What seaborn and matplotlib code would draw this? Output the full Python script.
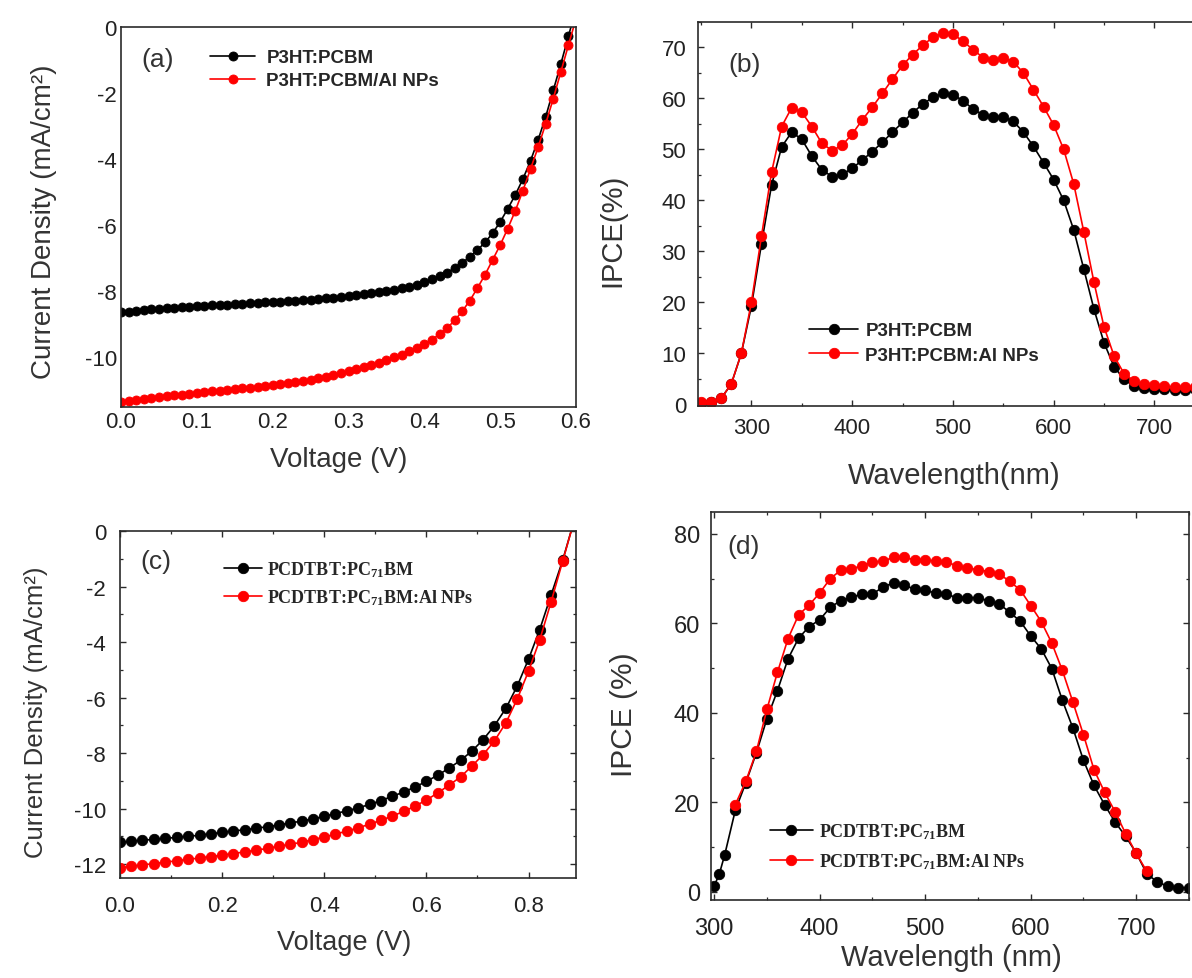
import matplotlib
matplotlib.use("Agg")
import matplotlib.pyplot as plt
import seaborn as sns
from matplotlib.ticker import MultipleLocator, FormatStrFormatter

# ---------------- data ----------------
# (a) J-V, P3HT:PCBM
volt_a = [0.00, 0.01, 0.02, 0.03, 0.04, 0.05, 0.06, 0.07, 0.08, 0.09,
          0.10, 0.11, 0.12, 0.13, 0.14, 0.15, 0.16, 0.17, 0.18, 0.19,
          0.20, 0.21, 0.22, 0.23, 0.24, 0.25, 0.26, 0.27, 0.28, 0.29,
          0.30, 0.31, 0.32, 0.33, 0.34, 0.35, 0.36, 0.37, 0.38, 0.39,
          0.40, 0.41, 0.42, 0.43, 0.44, 0.45, 0.46, 0.47, 0.48, 0.49,
          0.50, 0.51, 0.52, 0.53, 0.54, 0.55, 0.56, 0.57, 0.58, 0.59, 0.60]
jv_a_ref = [-8.64, -8.62, -8.60, -8.57, -8.54, -8.52, -8.50, -8.49, -8.47, -8.46,
            -8.45, -8.44, -8.42, -8.41, -8.40, -8.39, -8.37, -8.36, -8.35, -8.33,
            -8.32, -8.31, -8.29, -8.28, -8.26, -8.25, -8.23, -8.21, -8.19, -8.17,
            -8.14, -8.12, -8.09, -8.06, -8.03, -7.99, -7.95, -7.91, -7.86, -7.80,
            -7.72, -7.64, -7.54, -7.43, -7.30, -7.14, -6.95, -6.75, -6.52, -6.24,
            -5.90, -5.50, -5.08, -4.60, -4.05, -3.42, -2.72, -1.92, -1.12, -0.28, 0.55]
jv_a_al = [-11.36, -11.33, -11.30, -11.27, -11.24, -11.21, -11.18, -11.15, -11.13, -11.10,
           -11.08, -11.05, -11.03, -11.01, -10.99, -10.96, -10.94, -10.91, -10.89, -10.87,
           -10.84, -10.81, -10.78, -10.75, -10.71, -10.67, -10.63, -10.58, -10.53, -10.48,
           -10.42, -10.36, -10.30, -10.23, -10.16, -10.08, -10.00, -9.92, -9.82, -9.71,
           -9.60, -9.46, -9.30, -9.11, -8.88, -8.60, -8.28, -7.90, -7.50, -7.05,
           -6.60, -6.10, -5.56, -4.95, -4.30, -3.64, -2.93, -2.17, -1.36, -0.55, 0.25]
labels_a = ["P3HT:PCBM", "P3HT:PCBM/Al NPs"]

# (b) IPCE, P3HT:PCBM
wl_b = [250, 260, 270, 280, 290, 300, 310, 320, 330, 340,
        350, 360, 370, 380, 390, 400, 410, 420, 430, 440,
        450, 460, 470, 480, 490, 500, 510, 520, 530, 540,
        550, 560, 570, 580, 590, 600, 610, 620, 630, 640,
        650, 660, 670, 680, 690, 700, 710, 720, 730, 740]
ipce_b_ref = [0.3, 0.5, 1.2, 4.0, 10.0, 19.3, 31.5, 43.0, 50.5, 53.4,
              52.0, 48.7, 46.0, 44.7, 45.1, 46.3, 47.9, 49.6, 51.4, 53.4,
              55.3, 57.2, 58.9, 60.2, 61.0, 60.7, 59.6, 57.9, 56.8, 56.3,
              56.4, 55.5, 53.4, 50.6, 47.4, 44.1, 40.0, 34.2, 26.5, 18.7,
              12.1, 7.4, 4.9, 3.6, 3.2, 3.1, 3.0, 2.9, 2.9, 3.0]
ipce_b_al = [0.4, 0.5, 1.2, 4.0, 10.0, 20.0, 33.0, 45.5, 54.5, 58.2,
             57.3, 54.5, 51.2, 49.8, 50.8, 53.0, 55.8, 58.3, 61.0, 63.8,
             66.5, 68.6, 70.4, 72.0, 72.8, 72.7, 71.2, 69.6, 68.0, 67.6,
             68.0, 67.2, 65.0, 61.7, 58.4, 54.8, 50.0, 43.2, 33.8, 24.0,
             15.2, 9.5, 6.0, 4.6, 4.0, 3.8, 3.6, 3.4, 3.4, 3.5]
labels_b = ["P3HT:PCBM", "P3HT:PCBM:Al NPs"]

# (c) J-V, PCDTBT:PC71BM
volt_c = [0.000, 0.022, 0.044, 0.067, 0.089, 0.111, 0.133, 0.156, 0.178, 0.200,
          0.222, 0.244, 0.267, 0.289, 0.311, 0.333, 0.356, 0.378, 0.400, 0.422,
          0.444, 0.467, 0.489, 0.511, 0.533, 0.556, 0.578, 0.600, 0.622, 0.644,
          0.667, 0.689, 0.711, 0.733, 0.756, 0.778, 0.800, 0.822, 0.844, 0.867, 0.889]
jv_c_ref = [-11.22, -11.18, -11.14, -11.11, -11.07, -11.04, -11.00, -10.96, -10.91, -10.86,
            -10.81, -10.76, -10.71, -10.65, -10.59, -10.52, -10.45, -10.37, -10.28, -10.18,
            -10.08, -9.97, -9.85, -9.71, -9.56, -9.40, -9.22, -9.02, -8.80, -8.55,
            -8.26, -7.93, -7.52, -7.02, -6.38, -5.58, -4.62, -3.55, -2.32, -1.05, 0.35]
jv_c_al = [-12.13, -12.08, -12.03, -11.98, -11.93, -11.88, -11.83, -11.78, -11.73, -11.68,
           -11.62, -11.56, -11.50, -11.43, -11.36, -11.29, -11.21, -11.12, -11.02, -10.92,
           -10.81, -10.69, -10.56, -10.42, -10.27, -10.10, -9.91, -9.69, -9.44, -9.16,
           -8.86, -8.47, -8.06, -7.57, -6.90, -6.05, -5.05, -3.92, -2.57, -1.08, 0.35]
labels_c = ["PCDTBT:PC$_{71}$BM", "PCDTBT:PC$_{71}$BM:Al NPs"]

# (d) IPCE, PCDTBT:PC71BM
wl_d_ref = [300, 305, 310, 320, 330, 340, 350, 360, 370, 380, 390, 400, 410, 420,
            430, 440, 450, 460, 470, 480, 490, 500, 510, 520, 530, 540, 550, 560,
            570, 580, 590, 600, 610, 620, 630, 640, 650, 660, 670, 680, 690, 700,
            710, 720, 730, 740, 750]
ipce_d_ref = [1.3, 4.1, 8.3, 18.2, 24.4, 31.1, 38.7, 45.0, 52.1, 56.7, 59.3, 60.8, 63.6, 65.1,
              65.8, 66.6, 66.6, 68.1, 69.1, 68.5, 67.7, 67.4, 66.8, 66.6, 65.7, 65.7, 65.7, 65.1,
              64.4, 62.5, 60.5, 57.2, 54.3, 49.9, 42.8, 36.6, 29.4, 23.8, 19.5, 15.6, 12.4, 8.7,
              4.1, 2.2, 1.3, 0.9, 0.9]
wl_d_al = [320, 330, 340, 350, 360, 370, 380, 390, 400, 410, 420, 430, 440, 450,
           460, 470, 480, 490, 500, 510, 520, 530, 540, 550, 560, 570, 580, 590,
           600, 610, 620, 630, 640, 650, 660, 670, 680, 690, 700, 710]
ipce_d_al = [19.5, 24.7, 31.4, 40.8, 49.1, 56.6, 61.9, 64.1, 66.8, 70.0, 71.9, 72.2, 72.9, 73.7,
             73.9, 74.8, 74.8, 74.2, 74.2, 73.9, 73.7, 72.9, 72.4, 72.0, 71.6, 71.1, 69.4, 67.5,
             64.0, 60.4, 55.6, 49.5, 42.4, 35.1, 27.3, 22.3, 17.9, 13.0, 8.6, 4.6]
labels_d = ["PCDTBT:PC$_{71}$BM", "PCDTBT:PC$_{71}$BM:Al NPs"]

# ---------------- style ----------------
sns.set_theme(style="white")
plt.rcParams["font.family"] = ["Liberation Sans", "DejaVu Sans"]
plt.rcParams["axes.unicode_minus"] = False
plt.rcParams["mathtext.fontset"] = "custom"
plt.rcParams["mathtext.rm"] = "Liberation Serif:bold"
plt.rcParams["mathtext.bf"] = "Liberation Serif:bold"
plt.rcParams["mathtext.it"] = "Liberation Serif:bold"
plt.rcParams["mathtext.default"] = "rm"

W, H = 1192, 979
BLACK, RED = "#000000", "#ff0000"
SPINE = "#2a2a2a"
TXT = "#333333"


def rect(l, t, r, b):
    return [l / W, 1 - b / H, (r - l) / W, (b - t) / H]


fig = plt.figure(figsize=(W / 100, H / 100), dpi=100)
fig.patch.set_facecolor("white")

axa = fig.add_axes(rect(121, 28, 576, 408))
axb = fig.add_axes(rect(698, 23, 1235, 407))
axc = fig.add_axes(rect(120, 532, 576, 879))
axd = fig.add_axes(rect(711, 513, 1189, 901))


def draw(ax, x, y, color, label, ms):
    sns.lineplot(x=x, y=y, ax=ax, color=color, marker="o", markersize=ms,
                 markeredgecolor=color, markeredgewidth=0.6, linewidth=1.2,
                 label=label, legend=False, sort=False, estimator=None)


for ax in (axa, axb, axc, axd):
    for s in ax.spines.values():
        s.set_color(SPINE)
        s.set_linewidth(1.2)
        s.set_visible(True)

# (a)
draw(axa, volt_a, jv_a_ref, BLACK, labels_a[0], 6.5)
draw(axa, volt_a, jv_a_al, RED, labels_a[1], 6.5)
axa.set_xlim(0, 0.6)
axa.set_ylim(-11.5, 0)
axa.set_xticks([0.0, 0.1, 0.2, 0.3, 0.4, 0.5, 0.6])
axa.set_yticks([0, -2, -4, -6, -8, -10])
axa.xaxis.set_major_formatter(FormatStrFormatter("%.1f"))
axa.tick_params(length=0, labelsize=16, pad=3, labelcolor="#222222")
axa.set_xlabel("Voltage (V)", fontsize=20, color=TXT)
axa.set_ylabel("Current Density (mA/cm²)", fontsize=20, color=TXT)
axa.xaxis.set_label_coords(0.479, -0.103)
axa.yaxis.set_label_coords(-0.141, 0.49)
axa.text(0.081, 0.916, "(a)", transform=axa.transAxes, fontsize=19,
         color=TXT, ha="center", va="center")
axa.legend(loc="center left", bbox_to_anchor=(0.196, 0.889), frameon=False,
           borderpad=0, borderaxespad=0, handlelength=2.4, handletextpad=0.6,
           labelspacing=0.3, prop={"family": "Liberation Sans", "weight": "bold", "size": 13.5})

# (b)
draw(axb, wl_b, ipce_b_ref, BLACK, labels_b[0], 7.5)
draw(axb, wl_b, ipce_b_al, RED, labels_b[1], 7.5)
axb.set_xlim(247, 780)
axb.set_ylim(-0.3, 75)
axb.set_xticks([300, 400, 500, 600, 700])
axb.set_yticks([0, 10, 20, 30, 40, 50, 60, 70])
axb.xaxis.set_minor_locator(MultipleLocator(50))
axb.yaxis.set_minor_locator(MultipleLocator(5))
axb.tick_params(which="both", direction="in", top=True, right=False,
                bottom=True, left=True, colors=SPINE, labelcolor="#222222", labelsize=16)
axb.tick_params(which="major", length=4.5, width=1.0)
axb.tick_params(which="minor", length=2.5, width=0.9)
axb.tick_params(axis="y", pad=8.5)
axb.tick_params(axis="x", pad=8)
axb.set_xlabel("Wavelength(nm)", fontsize=21, color=TXT)
axb.set_ylabel("IPCE(%)", fontsize=21, color=TXT)
axb.xaxis.set_label_coords(0.477, -0.143)
axb.yaxis.set_label_coords(-0.133, 0.46)
axb.text(0.086, 0.891, "(b)", transform=axb.transAxes, fontsize=19,
         color=TXT, ha="center", va="center")
axb.legend(loc="center left", bbox_to_anchor=(0.207, 0.164), frameon=False,
           borderpad=0, borderaxespad=0, handlelength=2.6, handletextpad=0.4,
           labelspacing=0.4, prop={"family": "Liberation Sans", "weight": "bold", "size": 13.5})

# (c)
draw(axc, volt_c, jv_c_ref, BLACK, labels_c[0], 7.5)
draw(axc, volt_c, jv_c_al, RED, labels_c[1], 7.5)
axc.set_xlim(0, 0.893)
axc.set_ylim(-12.5, 0)
axc.set_xticks([0.0, 0.2, 0.4, 0.6, 0.8])
axc.set_yticks([0, -2, -4, -6, -8, -10, -12])
axc.xaxis.set_major_formatter(FormatStrFormatter("%.1f"))
axc.xaxis.set_minor_locator(MultipleLocator(0.1))
axc.yaxis.set_minor_locator(MultipleLocator(1))
axc.tick_params(which="both", direction="in", top=True, right=True,
                bottom=True, left=True, colors=SPINE, labelcolor="#222222", labelsize=16)
axc.tick_params(which="major", length=4.5, width=1.0)
axc.tick_params(which="minor", length=2.5, width=0.9)
axc.tick_params(axis="y", pad=10)
axc.tick_params(axis="x", pad=12)
axc.set_xlabel("Voltage (V)", fontsize=19.5, color=TXT)
axc.set_ylabel("Current Density (mA/cm²)", fontsize=18.5, color=TXT)
axc.xaxis.set_label_coords(0.491, -0.147)
axc.yaxis.set_label_coords(-0.158, 0.48)
axc.text(0.079, 0.914, "(c)", transform=axc.transAxes, fontsize=19,
         color=TXT, ha="center", va="center")
axc.legend(loc="center left", bbox_to_anchor=(0.228, 0.85), frameon=False,
           borderpad=0, borderaxespad=0, handlelength=2.1, handletextpad=0.3,
           labelspacing=0.5, prop={"family": "Liberation Serif", "weight": "bold", "size": 13})

# (d)
draw(axd, wl_d_ref, ipce_d_ref, BLACK, labels_d[0], 7.5)
draw(axd, wl_d_al, ipce_d_al, RED, labels_d[1], 7.5)
axd.set_xlim(297, 750)
axd.set_ylim(-1.8, 84.9)
axd.set_xticks([300, 400, 500, 600, 700])
axd.set_yticks([0, 20, 40, 60, 80])
axd.xaxis.set_minor_locator(MultipleLocator(50))
axd.yaxis.set_minor_locator(MultipleLocator(10))
axd.tick_params(which="both", direction="in", top=True, right=True,
                bottom=True, left=True, colors=SPINE, labelcolor="#222222", labelsize=17)
axd.tick_params(which="major", length=4.5, width=1.0)
axd.tick_params(which="minor", length=2.5, width=0.9)
axd.tick_params(axis="y", pad=8)
axd.tick_params(axis="x", pad=12)
axd.set_xlabel("Wavelength (nm)", fontsize=21, color=TXT)
axd.set_ylabel("IPCE (%)", fontsize=21.5, color=TXT)
axd.xaxis.set_label_coords(0.502, -0.112)
axd.yaxis.set_label_coords(-0.153, 0.48)
axd.text(0.069, 0.912, "(d)", transform=axd.transAxes, fontsize=19,
         color=TXT, ha="center", va="center")
axd.legend(loc="center left", bbox_to_anchor=(0.123, 0.139), frameon=False,
           borderpad=0, borderaxespad=0, handlelength=2.4, handletextpad=0.35,
           labelspacing=0.55, prop={"family": "Liberation Serif", "weight": "bold", "size": 13})

fig.savefig("out.png", dpi=100)
